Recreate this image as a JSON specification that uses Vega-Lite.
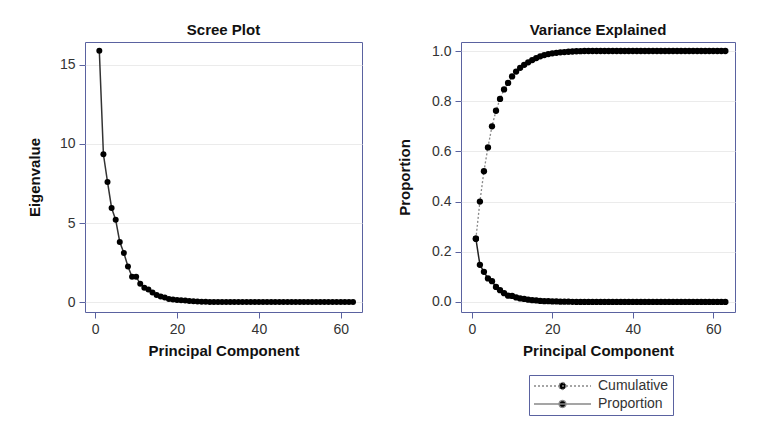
{
  "$schema": "https://vega.github.io/schema/vega-lite/v6.json",
  "background": "white",
  "padding": {"left": 26, "top": 22, "right": 10, "bottom": 10},
  "datasets": {
    "pca": [
      {"pc": 1, "eigen": 15.9, "proportion": 0.252, "cumulative": 0.252},
      {"pc": 2, "eigen": 9.35, "proportion": 0.148, "cumulative": 0.4},
      {"pc": 3, "eigen": 7.6, "proportion": 0.12, "cumulative": 0.521},
      {"pc": 4, "eigen": 5.95, "proportion": 0.094, "cumulative": 0.616},
      {"pc": 5, "eigen": 5.2, "proportion": 0.083, "cumulative": 0.7},
      {"pc": 6, "eigen": 3.8, "proportion": 0.06, "cumulative": 0.762},
      {"pc": 7, "eigen": 3.1, "proportion": 0.047, "cumulative": 0.809},
      {"pc": 8, "eigen": 2.25, "proportion": 0.035, "cumulative": 0.847},
      {"pc": 9, "eigen": 1.6, "proportion": 0.025, "cumulative": 0.873},
      {"pc": 10, "eigen": 1.6, "proportion": 0.024, "cumulative": 0.899},
      {"pc": 11, "eigen": 1.15, "proportion": 0.018, "cumulative": 0.918},
      {"pc": 12, "eigen": 0.9, "proportion": 0.014, "cumulative": 0.933},
      {"pc": 13, "eigen": 0.8, "proportion": 0.012, "cumulative": 0.945},
      {"pc": 14, "eigen": 0.6, "proportion": 0.009, "cumulative": 0.955},
      {"pc": 15, "eigen": 0.45, "proportion": 0.007, "cumulative": 0.964},
      {"pc": 16, "eigen": 0.35, "proportion": 0.006, "cumulative": 0.972},
      {"pc": 17, "eigen": 0.28, "proportion": 0.004, "cumulative": 0.979},
      {"pc": 18, "eigen": 0.2, "proportion": 0.003, "cumulative": 0.984},
      {"pc": 19, "eigen": 0.16, "proportion": 0.003, "cumulative": 0.988},
      {"pc": 20, "eigen": 0.13, "proportion": 0.002, "cumulative": 0.991},
      {"pc": 21, "eigen": 0.11, "proportion": 0.002, "cumulative": 0.993},
      {"pc": 22, "eigen": 0.09, "proportion": 0.001, "cumulative": 0.995},
      {"pc": 23, "eigen": 0.07, "proportion": 0.001, "cumulative": 0.996},
      {"pc": 24, "eigen": 0.05, "proportion": 0.001, "cumulative": 0.997},
      {"pc": 25, "eigen": 0.03, "proportion": 0.0005, "cumulative": 0.998},
      {"pc": 26, "eigen": 0.02, "proportion": 0.0003, "cumulative": 0.999},
      {"pc": 27, "eigen": 0.015, "proportion": 0.0002, "cumulative": 0.9995},
      {"pc": 28, "eigen": 0.01, "proportion": 0.0001, "cumulative": 1.0},
      {"pc": 29, "eigen": 0.009, "proportion": 0.0001, "cumulative": 1.0},
      {"pc": 30, "eigen": 0.008, "proportion": 0.0001, "cumulative": 1.0},
      {"pc": 31, "eigen": 0.007, "proportion": 0.0001, "cumulative": 1.0},
      {"pc": 32, "eigen": 0.006, "proportion": 0.0001, "cumulative": 1.0},
      {"pc": 33, "eigen": 0.005, "proportion": 0.0001, "cumulative": 1.0},
      {"pc": 34, "eigen": 0.005, "proportion": 0.0, "cumulative": 1.0},
      {"pc": 35, "eigen": 0.004, "proportion": 0.0, "cumulative": 1.0},
      {"pc": 36, "eigen": 0.004, "proportion": 0.0, "cumulative": 1.0},
      {"pc": 37, "eigen": 0.003, "proportion": 0.0, "cumulative": 1.0},
      {"pc": 38, "eigen": 0.003, "proportion": 0.0, "cumulative": 1.0},
      {"pc": 39, "eigen": 0.003, "proportion": 0.0, "cumulative": 1.0},
      {"pc": 40, "eigen": 0.002, "proportion": 0.0, "cumulative": 1.0},
      {"pc": 41, "eigen": 0.002, "proportion": 0.0, "cumulative": 1.0},
      {"pc": 42, "eigen": 0.002, "proportion": 0.0, "cumulative": 1.0},
      {"pc": 43, "eigen": 0.002, "proportion": 0.0, "cumulative": 1.0},
      {"pc": 44, "eigen": 0.001, "proportion": 0.0, "cumulative": 1.0},
      {"pc": 45, "eigen": 0.001, "proportion": 0.0, "cumulative": 1.0},
      {"pc": 46, "eigen": 0.001, "proportion": 0.0, "cumulative": 1.0},
      {"pc": 47, "eigen": 0.001, "proportion": 0.0, "cumulative": 1.0},
      {"pc": 48, "eigen": 0.001, "proportion": 0.0, "cumulative": 1.0},
      {"pc": 49, "eigen": 0.001, "proportion": 0.0, "cumulative": 1.0},
      {"pc": 50, "eigen": 0.001, "proportion": 0.0, "cumulative": 1.0},
      {"pc": 51, "eigen": 0.0, "proportion": 0.0, "cumulative": 1.0},
      {"pc": 52, "eigen": 0.0, "proportion": 0.0, "cumulative": 1.0},
      {"pc": 53, "eigen": 0.0, "proportion": 0.0, "cumulative": 1.0},
      {"pc": 54, "eigen": 0.0, "proportion": 0.0, "cumulative": 1.0},
      {"pc": 55, "eigen": 0.0, "proportion": 0.0, "cumulative": 1.0},
      {"pc": 56, "eigen": 0.0, "proportion": 0.0, "cumulative": 1.0},
      {"pc": 57, "eigen": 0.0, "proportion": 0.0, "cumulative": 1.0},
      {"pc": 58, "eigen": 0.0, "proportion": 0.0, "cumulative": 1.0},
      {"pc": 59, "eigen": 0.0, "proportion": 0.0, "cumulative": 1.0},
      {"pc": 60, "eigen": 0.0, "proportion": 0.0, "cumulative": 1.0},
      {"pc": 61, "eigen": 0.0, "proportion": 0.0, "cumulative": 1.0},
      {"pc": 62, "eigen": 0.0, "proportion": 0.0, "cumulative": 1.0},
      {"pc": 63, "eigen": 0.0, "proportion": 0.0, "cumulative": 1.0}
    ]
  },
  "config": {
    "font": "Liberation Sans",
    "view": {"stroke": "#5a62a0", "strokeWidth": 1},
    "axis": {
      "domain": false,
      "tickColor": "#5a62a0",
      "tickSize": 6,
      "labelFontSize": 14,
      "labelColor": "#333333",
      "labelPadding": 4,
      "titleFontSize": 15,
      "titleFontWeight": "bold",
      "titleColor": "#111111",
      "gridColor": "#ebebeb"
    },
    "axisX": {"grid": false, "titlePadding": 7},
    "axisY": {"grid": true},
    "title": {"fontSize": 15, "fontWeight": "bold", "color": "#111111", "offset": 4},
    "concat": {"spacing": 34}
  },
  "resolve": {"legend": {"strokeDash": "independent"}},
  "hconcat": [
    {
      "width": 277,
      "height": 270,
      "title": "Scree Plot",
      "data": {"name": "pca"},
      "encoding": {
        "x": {"field": "pc", "type": "quantitative", "scale": {"domain": [-2.5, 65.2], "nice": false, "zero": false}, "axis": {"values": [0, 20, 40, 60], "title": "Principal Component"}},
        "y": {"field": "eigen", "type": "quantitative", "scale": {"domain": [-0.63, 16.45], "nice": false, "zero": false}, "axis": {"values": [0, 5, 10, 15], "title": "Eigenvalue", "titlePadding": 17}}
      },
      "layer": [
        {"mark": {"type": "line", "color": "#333333", "strokeWidth": 1.5}},
        {"mark": {"type": "point", "filled": true, "size": 36, "color": "black", "opacity": 1}}
      ]
    },
    {
      "width": 274,
      "height": 270,
      "title": "Variance Explained",
      "data": {"name": "pca"},
      "encoding": {
        "x": {"field": "pc", "type": "quantitative", "scale": {"domain": [-2.7, 65.4], "nice": false, "zero": false}, "axis": {"values": [0, 20, 40, 60], "title": "Principal Component"}}
      },
      "layer": [
        {
          "mark": {"type": "line", "color": "#888888", "strokeWidth": 1.3},
          "encoding": {
            "y": {"field": "cumulative", "type": "quantitative", "scale": {"domain": [-0.04, 1.036], "nice": false, "zero": false}, "axis": {"values": [0, 0.2, 0.4, 0.6, 0.8, 1.0], "format": ".1f", "title": "Proportion", "titlePadding": 19}},
            "strokeDash": {
              "datum": "Cumulative",
              "type": "nominal",
              "scale": {"domain": ["Cumulative", "Proportion"], "range": [[2, 2], [1, 0]]},
              "legend": {
                "title": null,
                "orient": "none",
                "legendX": 68,
                "legendY": 333,
                "direction": "vertical",
                "symbolType": "M-1,0L8.5,0M4.33,0A0.58,0.58,0,1,1,3.17,0A0.58,0.58,0,1,1,4.33,0Z",
                "symbolSize": 144,
                "symbolStrokeWidth": 1.3,
                "symbolFillColor": "black",
                "labelFontSize": 14,
                "labelColor": "#333333",
                "strokeColor": "#5a62a0",
                "padding": 4,
                "rowPadding": 4,
                "labelOffset": 51,
                "encode": {"symbols": {"update": {"fill": {"value": "black"}, "fillOpacity": {"value": 1}, "opacity": {"value": 1}, "stroke": {"signal": "datum.label === 'Cumulative' ? '#888888' : '#222222'"}}}}
              }
            }
          }
        },
        {
          "mark": {"type": "point", "filled": true, "size": 40, "color": "black", "opacity": 1},
          "encoding": {"y": {"field": "cumulative", "type": "quantitative"}}
        },
        {
          "mark": {"type": "line", "color": "#222222", "strokeWidth": 1.5},
          "encoding": {
            "y": {"field": "proportion", "type": "quantitative"},
            "strokeDash": {"datum": "Proportion", "type": "nominal"}
          }
        },
        {
          "mark": {"type": "point", "filled": true, "size": 40, "color": "black", "opacity": 1},
          "encoding": {"y": {"field": "proportion", "type": "quantitative"}}
        }
      ]
    }
  ]
}
